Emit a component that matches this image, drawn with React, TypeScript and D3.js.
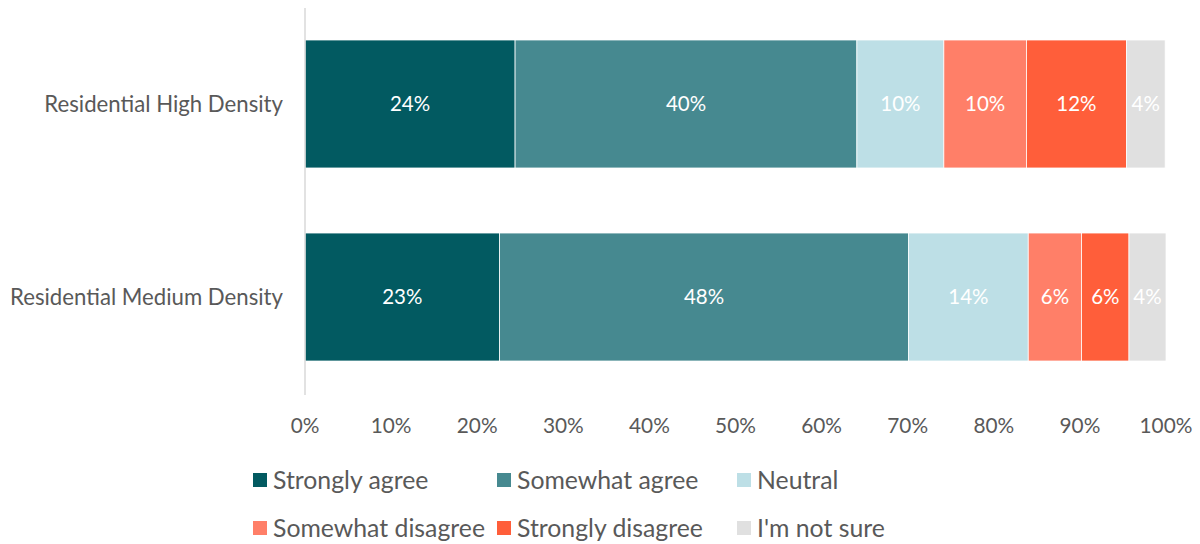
import React from "react";
import * as d3 from "d3";

const categories = ["Residential High Density", "Residential Medium Density"];
const seriesNames = ["Strongly agree", "Somewhat agree", "Neutral", "Somewhat disagree", "Strongly disagree", "I'm not sure"];
const stronglyAgree = [24.4, 22.6];
const somewhatAgree = [39.7, 47.5];
const neutral = [10.1, 13.9];
const somewhatDisagree = [9.6, 6.2];
const stronglyDisagree = [11.6, 5.5];
const notSure = [4.5, 4.3];
const dataLabels = [
  ["24%", "40%", "10%", "10%", "12%", "4%"],
  ["23%", "48%", "14%", "6%", "6%", "4%"],
];
const tickValues = [0, 10, 20, 30, 40, 50, 60, 70, 80, 90, 100];
const colors = ["#025A61", "#468990", "#BDDFE6", "#FF7F68", "#FF5E3A", "#E0E0E0"];

const FONT = "Lato, 'Open Sans', sans-serif";
const TEXT = "#595959";

export default function App() {
  const W = 1200, H = 544;
  const x = d3.scaleLinear().domain([0, 100]).range([305, 1166]);
  const y = d3.scaleBand().domain(categories).range([40, 361]).paddingInner(0.337).paddingOuter(0);
  const series = [stronglyAgree, somewhatAgree, neutral, somewhatDisagree, stronglyDisagree, notSure];
  const rows = categories.map((c, i) => {
    let acc = 0;
    return series.map((s, k) => {
      const x0 = acc;
      acc += s[i];
      return { k, x0, x1: acc, label: dataLabels[i][k] };
    });
  });
  const legendPos = [
    [253, 480], [497, 480], [737, 480],
    [253, 528], [497, 528], [737, 528],
  ];
  return (
    <svg width={W} height={H} style={{ position: "absolute", left: 0, top: 0 }} fontFamily={FONT}>
      <rect width={W} height={H} fill="#fff" />
      {categories.map((c, i) => (
        <g key={c}>
          {rows[i].map((seg) => (
            <g key={seg.k}>
              <rect x={x(seg.x0)} y={y(c)!} width={x(seg.x1) - x(seg.x0)} height={y.bandwidth()}
                fill={colors[seg.k]} stroke="#fff" strokeWidth={0.75} />
              <text x={(x(seg.x0) + x(seg.x1)) / 2} y={y(c)! + y.bandwidth() / 2} dy="0.35em"
                textAnchor="middle" fill="#fff" fontSize={20.5}>{seg.label}</text>
            </g>
          ))}
          <text x={283} y={y(c)! + y.bandwidth() / 2} dy="0.35em" textAnchor="end" fill={TEXT} fontSize={22.2}>{c}</text>
        </g>
      ))}
      <line x1={305} x2={305} y1={8} y2={395} stroke="#D9D9D9" strokeWidth={1.5} />
      {tickValues.map((t) => (
        <text key={t} x={x(t)} y={426} dy="0.35em" textAnchor="middle" fill={TEXT} fontSize={20.8}>{t}%</text>
      ))}
      {seriesNames.map((n, k) => (
        <g key={n}>
          <rect x={legendPos[k][0]} y={legendPos[k][1] - 7} width={14} height={14} fill={colors[k]} />
          <text x={legendPos[k][0] + 20} y={legendPos[k][1]} dy="0.35em" fill={TEXT} fontSize={24.8}>{n}</text>
        </g>
      ))}
    </svg>
  );
}
